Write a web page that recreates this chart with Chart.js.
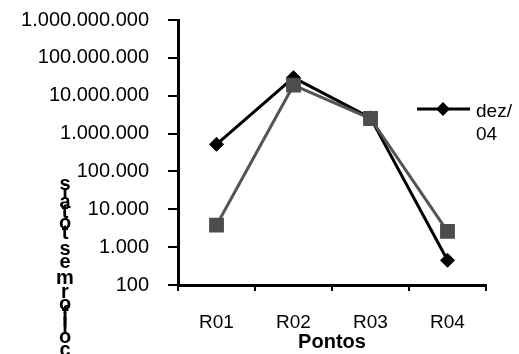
<!DOCTYPE html>
<html>
<head>
<meta charset="utf-8">
<script src="https://cdn.jsdelivr.net/npm/chart.js@4"></script>
<style>
  html, body { margin: 0; padding: 0; background: #fff; }
  #wrap { width: 519px; height: 354px; position: relative; }
</style>
</head>
<body>
<div id="wrap"><canvas id="c"></canvas></div>
<script>
// ─── data ─────────────────────────────────────────────────────────────────────
const LABELS   = ["R01", "R02", "R03", "R04"];
const DEZ04    = [520000, 30000000, 2600000, 450];
const SERIE2   = [3800, 19000000, 2500000, 2600];
const Y_TICKS  = [100, 1e3, 1e4, 1e5, 1e6, 1e7, 1e8, 1e9];
const Y_TITLE  = "coliformes totais";
const X_TITLE  = "Pontos";
const LEGEND   = ["dez/", "04"];

const FONT = "'Liberation Sans', Arial, sans-serif";

function fmt(v) {
  return String(Math.round(v)).replace(/\B(?=(\d{3})+(?!\d))/g, ".");
}

// y title: glyphs stacked upright, reading bottom to top
const yTitlePlugin = {
  id: "yTitle",
  afterDraw(chart) {
    const ctx = chart.ctx;
    ctx.save();
    ctx.font = "bold 20px " + FONT;
    ctx.fillStyle = "#000";
    ctx.textAlign = "center";
    ctx.textBaseline = "middle";
    let cur = 357;
    for (const ch of Y_TITLE) {
      const w = ctx.measureText(ch).width * 1.12;
      if (ch !== " ") ctx.fillText(ch, 65, cur - w / 2);
      cur -= w;
    }
    ctx.restore();
  },
};

// legend: only the first entry is visible in the reference
const legendPlugin = {
  id: "sideLegend",
  afterDraw(chart) {
    const ctx = chart.ctx;
    ctx.save();
    ctx.strokeStyle = "#000";
    ctx.lineWidth = 3;
    ctx.beginPath(); ctx.moveTo(417, 109); ctx.lineTo(470, 109); ctx.stroke();
    ctx.fillStyle = "#000";
    ctx.beginPath();
    ctx.moveTo(443 - 7, 109); ctx.lineTo(443, 102); ctx.lineTo(443 + 7, 109); ctx.lineTo(443, 116);
    ctx.closePath(); ctx.fill();
    ctx.font = "19px " + FONT;
    ctx.textAlign = "left";
    ctx.textBaseline = "middle";
    ctx.fillText(LEGEND[0], 476, 112);
    ctx.fillText(LEGEND[1], 476, 135);
    ctx.restore();
  },
};

new Chart(document.getElementById("c"), {
  type: "line",
  data: {
    labels: LABELS,
    datasets: [
      { label: "dez/04", data: DEZ04, order: 1,
        borderColor: "#000", backgroundColor: "#000", borderWidth: 3,
        pointStyle: "rectRot", pointRadius: 7, pointBorderWidth: 1, tension: 0 },
      { label: "", data: SERIE2, order: 0,
        borderColor: "#555", backgroundColor: "#4d4d4d", borderWidth: 3,
        pointStyle: "rect", pointRadius: 10.5, pointBorderWidth: 0, tension: 0 },
    ],
  },
  options: {
    responsive: true, maintainAspectRatio: false, animation: false,
    layout: { padding: { top: 20, right: 33, left: 0, bottom: 0 } },
    plugins: { legend: { display: false }, tooltip: { enabled: false } },
    scales: {
      x: {
        offset: true,
        grid: { offset: true, drawOnChartArea: false, color: "#000", lineWidth: 2, tickLength: 6 },
        border: { color: "#000", width: 3 },
        ticks: { color: "#000", font: { size: 19, family: FONT }, padding: 20 },
        title: { display: true, text: X_TITLE, color: "#000", font: { size: 20, weight: "bold", family: FONT }, padding: 0 },
        afterFit: axis => { axis.height = 69; },
      },
      y: {
        type: "logarithmic", min: 100, max: 1e9,
        grid: { drawOnChartArea: false, color: "#000", lineWidth: 2, tickLength: 10 },
        border: { color: "#000", width: 3 },
        ticks: { color: "#000", font: { size: 20, family: FONT }, padding: 19, callback: v => fmt(v) },
        afterBuildTicks: axis => { axis.ticks = Y_TICKS.map(v => ({ value: v })); },
        afterFit: axis => { axis.width = 178; axis.paddingTop = 0; axis.paddingBottom = 0; },
      },
    },
  },
  plugins: [yTitlePlugin, legendPlugin],
});
</script>
</body>
</html>
